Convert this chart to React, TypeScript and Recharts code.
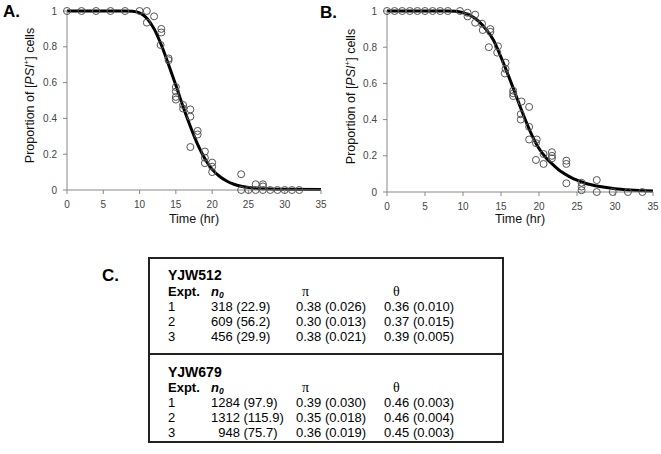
import React from "react";
import { ComposedChart, Scatter, Line, XAxis, YAxis } from "recharts";

// panel A: observed proportions
const timesA = [0, 2, 4, 6, 8, 10, 11, 11, 12, 13, 13, 12.9, 14, 14, 15, 15, 15, 15, 16, 16, 17, 17, 17, 18, 18, 19, 19, 19, 20, 20, 20, 24, 24, 25, 26, 26, 27, 27, 27, 28, 29, 30, 31, 32];
const propA = [1, 1, 1, 1, 1, 1, 1, 0.935, 0.97, 0.9, 0.88, 0.81, 0.735, 0.725, 0.575, 0.55, 0.52, 0.505, 0.475, 0.455, 0.45, 0.41, 0.24, 0.33, 0.31, 0.215, 0.18, 0.15, 0.153, 0.13, 0.1, 0.088, 0, 0, 0.032, 0, 0.032, 0.02, 0, 0, 0, 0, 0, 0];
// panel A: fitted curve
const fitTimesA = [0, 2, 4, 6, 8, 9, 10, 11, 12, 13, 14, 15, 16, 17, 18, 19, 20, 21, 22, 23, 24, 26, 28, 30, 35];
const fitA = [1, 1, 1, 1, 1, 0.998, 0.99, 0.96, 0.9, 0.81, 0.7, 0.585, 0.465, 0.355, 0.255, 0.175, 0.115, 0.077, 0.05, 0.032, 0.021, 0.01, 0.006, 0.004, 0.003];

// panel B
const timesB = [0, 1, 2, 3, 4, 5, 6, 7, 8, 9.6, 10.6, 10.6, 11.6, 11.6, 12.5, 12.6, 13.6, 13.6, 13.4, 14.6, 14.5, 15.6, 15.6, 15.5, 16.6, 16.6, 16.6, 17.7, 17.6, 17.6, 18.7, 18.7, 18.7, 19.7, 19.6, 19.6, 20.6, 20.6, 21.7, 21.7, 21.7, 23.6, 23.6, 23.6, 25.6, 25.6, 25.6, 27.6, 27.6, 29.7, 31.7, 33.6];
const propB = [1, 1, 1, 1, 1, 1, 1, 1, 1, 1, 0.99, 0.97, 0.98, 0.935, 0.93, 0.895, 0.9, 0.885, 0.8, 0.805, 0.77, 0.715, 0.68, 0.655, 0.56, 0.545, 0.53, 0.5, 0.43, 0.4, 0.47, 0.36, 0.29, 0.29, 0.27, 0.177, 0.21, 0.155, 0.22, 0.2, 0.186, 0.173, 0.155, 0.048, 0.051, 0.03, 0.01, 0.066, 0, 0, 0, 0];
const fitTimesB = [0, 2, 4, 6, 8, 9, 10, 11, 12, 13, 14, 15, 16, 17, 18, 19, 20, 21, 22, 23, 24, 25, 26, 28, 30, 32, 35];
const fitB = [1, 1, 1, 1, 1, 0.998, 0.99, 0.975, 0.945, 0.9, 0.84, 0.745, 0.64, 0.53, 0.42, 0.32, 0.24, 0.185, 0.145, 0.11, 0.085, 0.065, 0.05, 0.03, 0.018, 0.011, 0.005];

const xTicks = [0, 5, 10, 15, 20, 25, 30, 35];
const yTicks = [0, 0.2, 0.4, 0.6, 0.8, 1];

// panel C table
const strainNames = ["YJW512", "YJW679"];
const exptIds = ["1", "2", "3"];
const n0Values = [
  ["318 (22.9)", "609 (56.2)", "456 (29.9)"],
  ["1284 (97.9)", "1312 (115.9)", "\u00a0\u00a0948 (75.7)"],
];
const piValues = [
  ["0.38 (0.026)", "0.30 (0.013)", "0.38 (0.021)"],
  ["0.39 (0.030)", "0.35 (0.018)", "0.36 (0.019)"],
];
const thetaValues = [
  ["0.36 (0.010)", "0.37 (0.015)", "0.39 (0.005)"],
  ["0.46 (0.003)", "0.46 (0.004)", "0.45 (0.003)"],
];

const font = "'Liberation Sans', Arial, sans-serif";
const serif = "'Liberation Serif', 'Times New Roman', serif";

const toRows = (xs: number[], ys: number[]) => xs.map((x, i) => ({ x, y: ys[i] }));
const toFit = (xs: number[], ys: number[]) => xs.map((x, i) => ({ x, fit: ys[i] }));

const OpenCircle = (props: any) => (
  <circle cx={props.cx} cy={props.cy} r={3.5} fill="none" stroke="#555" strokeWidth={1} />
);

const YLabel = (props: any) => {
  const vb = props.viewBox || {};
  const cx = vb.x + props.lx;
  const cy = vb.y + vb.height / 2 - 5;
  return (
    <text
      x={cx}
      y={cy}
      transform={`rotate(-90 ${cx} ${cy})`}
      textAnchor="middle"
      fontSize={12.5}
      fontFamily={font}
      fill="#111"
    >
      Proportion of [<tspan fontStyle="italic">PSI</tspan>
      <tspan dy={-5} fontSize={8}>+</tspan>
      <tspan dy={5}>] cells</tspan>
    </text>
  );
};

const XLabel = (props: any) => {
  const vb = props.viewBox || {};
  return (
    <text
      x={vb.x + vb.width / 2}
      y={vb.y + props.by}
      textAnchor="middle"
      fontSize={12.5}
      fontFamily={font}
      fill="#111"
    >
      Time (hr)
    </text>
  );
};

const fmt = (v: number) => (v === 0 ? "0" : v === 1 ? "1" : String(v));

const Panel = ({ w, h, right, pts, fit, lx, by }: any) => (
  <ComposedChart width={w} height={h} margin={{ top: 11, right, left: 0, bottom: 0 }}>
    <XAxis
      type="number"
      dataKey="x"
      domain={[0, 35]}
      ticks={xTicks}
      height={40}
      tickSize={4}
      tickMargin={7}
      stroke="#888"
      tick={{ fill: "#444", fontSize: 10, fontFamily: font }}
      label={<XLabel by={by} />}
    />
    <YAxis
      type="number"
      domain={[0, 1]}
      ticks={yTicks}
      width={67}
      tickSize={4}
      tickMargin={6}
      stroke="#888"
      tickFormatter={fmt}
      tick={{ fill: "#444", fontSize: 10, fontFamily: font }}
      label={<YLabel lx={lx} />}
    />
    <Scatter data={pts} dataKey="y" shape={OpenCircle} isAnimationActive={false} />
    <Line
      data={fit}
      dataKey="fit"
      type="monotone"
      stroke="#000"
      strokeWidth={3}
      dot={false}
      activeDot={false}
      isAnimationActive={false}
    />
  </ComposedChart>
);

const panelLetter: React.CSSProperties = {
  position: "absolute",
  fontFamily: font,
  fontWeight: "bold",
  fontSize: 17,
  lineHeight: "17px",
  color: "#000",
};

const colLeft = [0, 43, 128, 216];
const rowStyle: React.CSSProperties = {
  position: "relative",
  height: 15,
  lineHeight: "15px",
  fontSize: 13,
  fontFamily: font,
  whiteSpace: "pre",
};

const Section = ({ s, first }: { s: number; first: boolean }) => (
  <div
    style={{
      height: first ? 96 : 86,
      borderBottom: first ? "2px solid #222" : "none",
      paddingLeft: 18,
      paddingTop: first ? 8 : 9,
      boxSizing: "border-box",
    }}
  >
    <div style={{ fontWeight: "bold", fontSize: 14, lineHeight: "16px", marginBottom: first ? 1 : 0, fontFamily: font }}>
      {strainNames[s]}
    </div>
    <div style={rowStyle}>
      <span style={{ position: "absolute", left: colLeft[0], fontWeight: "bold" }}>Expt.</span>
      <span style={{ position: "absolute", left: colLeft[1], fontWeight: "bold", fontStyle: "italic" }}>
        n<span style={{ fontSize: 8.5, position: "relative", top: 2, lineHeight: "8px" }}>0</span>
      </span>
      <span style={{ position: "absolute", left: colLeft[2] + 6, fontFamily: serif, fontSize: 14 }}>π</span>
      <span style={{ position: "absolute", left: colLeft[3] + 9, fontFamily: serif, fontSize: 14 }}>θ</span>
    </div>
    {exptIds.map((id, i) => (
      <div key={id} style={rowStyle}>
        <span style={{ position: "absolute", left: colLeft[0] }}>{id}</span>
        <span style={{ position: "absolute", left: colLeft[1] }}>{n0Values[s][i]}</span>
        <span style={{ position: "absolute", left: colLeft[2] }}>{piValues[s][i]}</span>
        <span style={{ position: "absolute", left: colLeft[3] }}>{thetaValues[s][i]}</span>
      </div>
    ))}
  </div>
);

export default function App() {
  return (
    <div style={{ position: "absolute", left: 0, top: 0, width: 661, height: 454, background: "#fff", fontFamily: font, color: "#000" }}>
      <div style={{ position: "absolute", left: 0, top: 0 }}>
        <Panel w={330} h={230} right={9} pts={toRows(timesA, propA)} fit={toFit(fitTimesA, fitA)} lx={33.5} by={32.5} />
      </div>
      <div style={{ position: "absolute", left: 320, top: 0 }}>
        <Panel w={341} h={232} right={8} pts={toRows(timesB, propB)} fit={toFit(fitTimesB, fitB)} lx={34.5} by={30.5} />
      </div>
      <div style={{ ...panelLetter, left: 3, top: 3 }}>A.</div>
      <div style={{ ...panelLetter, left: 320, top: 4 }}>B.</div>
      <div style={{ ...panelLetter, left: 102, top: 267 }}>C.</div>
      <div
        style={{
          position: "absolute",
          left: 148,
          top: 257,
          width: 356,
          height: 186,
          border: "2px solid #222",
          boxSizing: "border-box",
        }}
      >
        <Section s={0} first={true} />
        <Section s={1} first={false} />
      </div>
    </div>
  );
}
